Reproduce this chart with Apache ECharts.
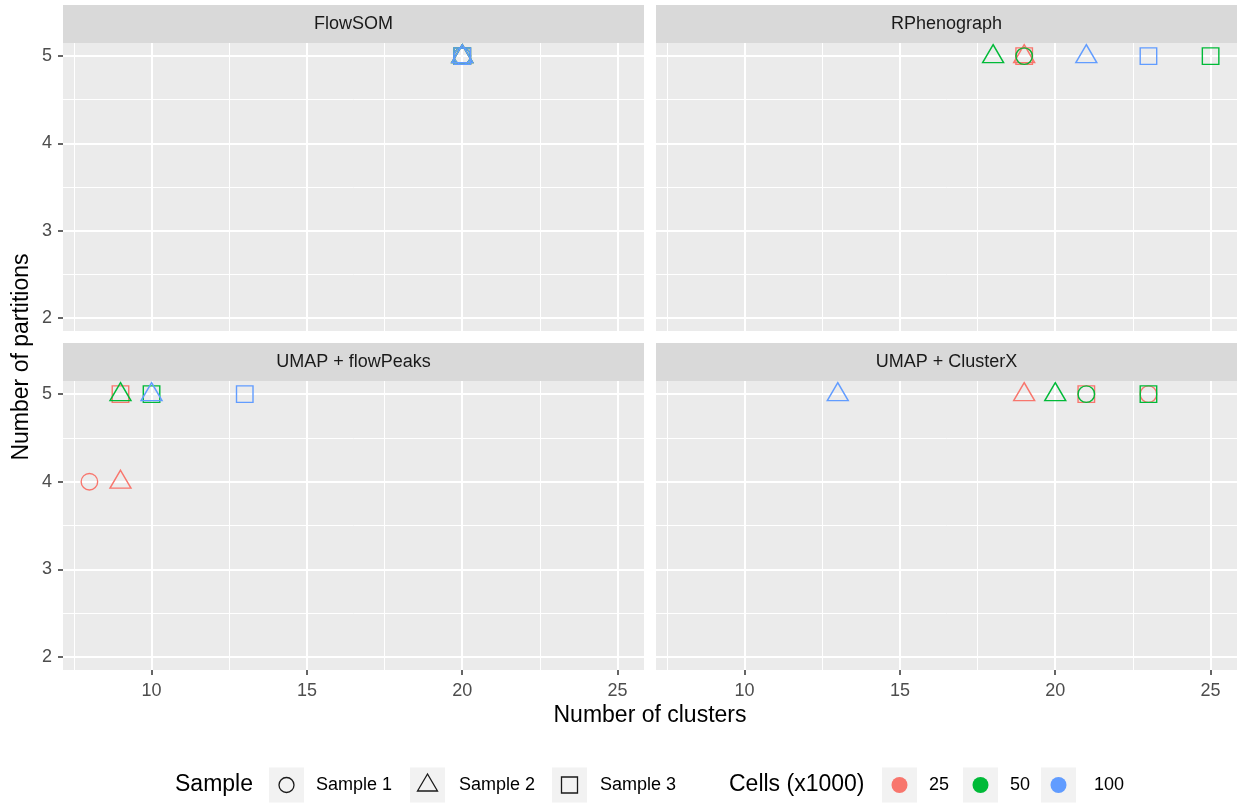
<!DOCTYPE html>
<html>
<head>
<meta charset="utf-8">
<script src="https://cdn.jsdelivr.net/npm/echarts@6/dist/echarts.min.js"></script>
<style>
  html, body { margin: 0; padding: 0; background: #ffffff; }
  #chart { width: 1238px; height: 803px; }
</style>
</head>
<body>
<div id="chart"></div>
<script>
// Facet panels, legend levels and axis ticks
const panelNames = ['FlowSOM', 'RPhenograph', 'UMAP + flowPeaks', 'UMAP + ClusterX'];
const sampleNames = ['Sample 1', 'Sample 2', 'Sample 3'];
const cellLevels = [25, 50, 100];
const cellColors = ['#F8766D', '#00BA38', '#619CFF'];
const xTicks = [10, 15, 20, 25];
const xMinorTicks = [7.5, 12.5, 17.5, 22.5];
const yTicks = [2, 3, 4, 5];
const yMinorTicks = [2.5, 3.5, 4.5];

// Runs per method: [sample, cells (x1000), number of clusters, number of partitions]
const flowSOMRuns = [
  ['Sample 1', 25, 20, 5], ['Sample 2', 25, 20, 5], ['Sample 3', 25, 20, 5],
  ['Sample 1', 50, 20, 5], ['Sample 2', 50, 20, 5], ['Sample 3', 50, 20, 5],
  ['Sample 1', 100, 20, 5], ['Sample 2', 100, 20, 5], ['Sample 3', 100, 20, 5]
];
const rphenographRuns = [
  ['Sample 1', 25, 19, 5], ['Sample 2', 25, 19, 5], ['Sample 3', 25, 19, 5],
  ['Sample 1', 50, 19, 5], ['Sample 2', 50, 18, 5], ['Sample 3', 50, 25, 5],
  ['Sample 2', 100, 21, 5], ['Sample 3', 100, 23, 5]
];
const flowPeaksRuns = [
  ['Sample 1', 25, 8, 4], ['Sample 2', 25, 9, 4], ['Sample 3', 25, 9, 5],
  ['Sample 2', 50, 9, 5], ['Sample 3', 50, 10, 5],
  ['Sample 2', 100, 10, 5], ['Sample 3', 100, 13, 5]
];
const clusterXRuns = [
  ['Sample 1', 25, 23, 5], ['Sample 2', 25, 19, 5], ['Sample 3', 25, 21, 5],
  ['Sample 1', 50, 21, 5], ['Sample 2', 50, 20, 5], ['Sample 3', 50, 23, 5],
  ['Sample 2', 100, 13, 5]
];
const panelRuns = [flowSOMRuns, rphenographRuns, flowPeaksRuns, clusterXRuns];

const FONT = '"Liberation Sans", Arial, Helvetica, sans-serif';
const X_RANGE = [7.15, 25.85];
const Y_RANGE = [1.85, 5.15];

// Panel layout: 2 x 2 facets with grey strips on top
const panelW = 581, panelGapX = 12, leftX = 63;
const stripH = 38;
const panelBoxes = [
  { left: leftX, top: 43, height: 288 },
  { left: leftX + panelW + panelGapX, top: 43, height: 288 },
  { left: leftX, top: 381, height: 289 },
  { left: leftX + panelW + panelGapX, top: 381, height: 289 }
];

// Open shapes per sample, sized like ggplot's shapes 1, 2 and 0
const shapeStyle = {
  'Sample 1': { symbol: 'circle', symbolSize: 16.5, symbolOffset: [0, 0] },
  'Sample 2': { symbol: 'triangle', symbolSize: [21, 18], symbolOffset: [0, -2.5] },
  'Sample 3': { symbol: 'rect', symbolSize: 16.5, symbolOffset: [0, 0] }
};

const grids = panelBoxes.map(b => ({
  left: b.left, top: b.top, width: panelW, height: b.height,
  show: true, backgroundColor: '#EBEBEB', borderWidth: 0,
  containLabel: false, outerBoundsMode: 'none'
}));

const xAxes = panelBoxes.map((b, i) => {
  const bottomRow = i >= 2;
  return {
    type: 'value', gridIndex: i, min: X_RANGE[0], max: X_RANGE[1],
    axisLine: { show: false },
    splitLine: { show: false },
    axisTick: { show: bottomRow, customValues: xTicks, length: 5, lineStyle: { color: '#333333', width: 1.5 } },
    axisLabel: { show: bottomRow, customValues: xTicks, color: '#4D4D4D', fontSize: 18, fontFamily: FONT, margin: 12 }
  };
});

const yAxes = panelBoxes.map((b, i) => {
  const leftCol = i % 2 === 0;
  return {
    type: 'value', gridIndex: i, min: Y_RANGE[0], max: Y_RANGE[1],
    axisLine: { show: false },
    splitLine: { show: false },
    axisTick: { show: leftCol, customValues: yTicks, length: 5, lineStyle: { color: '#333333', width: 1.5 } },
    axisLabel: { show: leftCol, customValues: yTicks, color: '#4D4D4D', fontSize: 18, fontFamily: FONT, margin: 11 }
  };
});

// White major / minor grid lines, drawn through each panel's own axes
function gridLineSeries(i) {
  const lines = [];
  xTicks.forEach(v => lines.push({ xAxis: v, lineStyle: { width: 2 } }));
  xMinorTicks.forEach(v => lines.push({ xAxis: v, lineStyle: { width: 1 } }));
  yTicks.forEach(v => lines.push({ yAxis: v, lineStyle: { width: 2 } }));
  yMinorTicks.forEach(v => lines.push({ yAxis: v, lineStyle: { width: 1 } }));
  return {
    type: 'scatter', name: 'grid-' + i, xAxisIndex: i, yAxisIndex: i, data: [], z: 1, silent: true,
    markLine: {
      z: 1, silent: true, animation: false, symbol: ['none', 'none'],
      label: { show: false }, emphasis: { disabled: true },
      lineStyle: { color: '#FFFFFF', type: 'solid', opacity: 1 },
      data: lines
    }
  };
}

const series = [];
panelRuns.forEach((runs, i) => series.push(gridLineSeries(i)));
panelRuns.forEach((runs, i) => {
  cellLevels.forEach((cells, k) => {
    const rows = runs.filter(r => r[1] === cells);
    series.push({
      type: 'scatter', name: panelNames[i] + ' / ' + cells,
      xAxisIndex: i, yAxisIndex: i, z: 10, silent: true, animation: false,
      itemStyle: { color: 'rgba(0,0,0,0)', borderColor: cellColors[k], borderWidth: 1.4, opacity: 1 },
      emphasis: { disabled: true },
      data: rows.map(r => Object.assign({ value: [r[2], r[3]] }, shapeStyle[r[0]]))
    });
  });
});

// Strips, axis titles and the two-part legend
const graphics = [];
panelBoxes.forEach((b, i) => {
  graphics.push({
    type: 'rect', left: b.left, top: b.top - stripH, silent: true,
    shape: { width: panelW, height: stripH }, style: { fill: '#D9D9D9' }
  });
  graphics.push({
    type: 'text', x: b.left + panelW / 2, y: b.top - stripH / 2, silent: true,
    style: { text: panelNames[i], font: '18px ' + FONT, fill: '#1A1A1A', align: 'center', verticalAlign: 'middle' }
  });
});
graphics.push({
  type: 'text', x: 650, y: 716, silent: true,
  style: { text: 'Number of clusters', font: '23px ' + FONT, fill: '#000000', align: 'center', verticalAlign: 'middle' }
});
graphics.push({
  type: 'text', x: 22, y: 357, rotation: Math.PI / 2, silent: true,
  style: { text: 'Number of partitions', font: '23px ' + FONT, fill: '#000000', align: 'center', verticalAlign: 'middle' }
});

const legendY = 785, keySize = 35;
function keyBox(x) {
  graphics.push({
    type: 'rect', left: x, top: legendY - keySize / 2, silent: true,
    shape: { width: keySize, height: keySize }, style: { fill: '#F2F2F2' }
  });
  return [x + keySize / 2, legendY];
}
function legendText(x, text, size) {
  graphics.push({
    type: 'text', x: x, y: legendY, silent: true,
    style: { text: text, font: size + 'px ' + FONT, fill: '#000000', align: 'left', verticalAlign: 'middle' }
  });
}
legendText(175, 'Sample', 23);
const sampleKeyX = [269, 410, 552];
const sampleLabelX = [316, 459, 600];
sampleNames.forEach((name, j) => {
  const [cx, cy] = keyBox(sampleKeyX[j]);
  const stroke = { fill: 'none', stroke: '#1A1A1A', lineWidth: 1.3 };
  if (j === 0) {
    graphics.push({ type: 'circle', silent: true, shape: { cx: cx, cy: cy, r: 7.5 }, style: stroke });
  } else if (j === 1) {
    graphics.push({ type: 'polygon', silent: true,
      shape: { points: [[cx, cy - 11], [cx - 10, cy + 6], [cx + 10, cy + 6]] }, style: stroke });
  } else {
    graphics.push({ type: 'rect', silent: true, shape: { x: cx - 8, y: cy - 8, width: 16, height: 16 }, style: stroke });
  }
  legendText(sampleLabelX[j], name, 18);
});
legendText(729, 'Cells (x1000)', 23);
const cellKeyX = [882, 963, 1041];
const cellLabelX = [929, 1010, 1094];
cellLevels.forEach((cells, k) => {
  const [cx, cy] = keyBox(cellKeyX[k]);
  graphics.push({ type: 'circle', silent: true, shape: { cx: cx, cy: cy, r: 8 }, style: { fill: cellColors[k] } });
  legendText(cellLabelX[k], String(cells), 18);
});

const chart = echarts.init(document.getElementById('chart'), null, { renderer: 'canvas' });
chart.setOption({
  backgroundColor: '#FFFFFF',
  animation: false,
  textStyle: { fontFamily: FONT },
  grid: grids,
  xAxis: xAxes,
  yAxis: yAxes,
  series: series,
  graphic: { elements: graphics }
});
</script>
</body>
</html>
